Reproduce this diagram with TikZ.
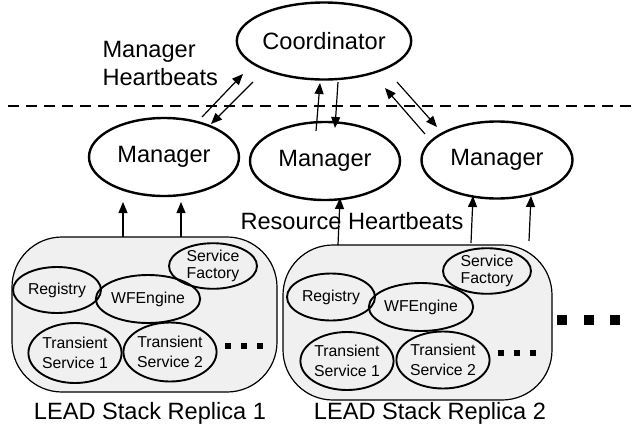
\documentclass[tikz,border=0pt]{standalone}
\usepackage{fontspec}
\setmainfont{Liberation Sans}
\usetikzlibrary{shapes.geometric,arrows.meta}
\begin{document}
\begin{tikzpicture}[x=1pt,y=-1pt,
  big/.style={font=\fontsize{23.6}{28}\selectfont},
  small/.style={font=\fontsize{15.8}{19.5}\selectfont},
  bigell/.style={ellipse,draw,line width=2.4pt,inner sep=0pt,big},
  smallell/.style={ellipse,draw,line width=1.9pt,inner sep=0pt,small,align=center,minimum width=88pt},
  stackbox/.style={draw,line width=1.2pt,fill=black!6,rounded corners=50pt},
  arr/.style={line width=1.2pt,-{Triangle[length=11pt,width=9pt]}},
  sq/.style={fill=black,draw=none}]
\useasboundingbox (0,0) rectangle (635,429);
% dashed separator
\coordinate (dl) at (8,106);
\coordinate (dr) at (635,106);
\draw[line width=2.2pt,dash pattern=on 11pt off 7pt] (dl) -- (dr);
% coordinator and managers
\node[bigell,minimum width=164pt,minimum height=77pt] (coord) at (324,41) {Coordinator};
\node[bigell,minimum width=150pt,minimum height=78pt] (m1) at (164,157) {Manager};
\node[bigell,minimum width=150pt,minimum height=78pt] (m2) at (325,161) {Manager};
\node[bigell,minimum width=151pt,minimum height=77pt] (m3) at (497,160) {Manager};
\node[big,align=left,anchor=west] (mh) at (99,63) {Manager\\Heartbeats};
\node[big] (rh) at (352,221) {Resource Heartbeats};
% boxes
\draw[stackbox] (12,237) rectangle (277,392);
\node[inner sep=0pt,minimum width=265pt,minimum height=155pt] (box1) at (144.5,314.5) {};
\draw[stackbox] (283,245) rectangle (552,400);
\node[inner sep=0pt,minimum width=269pt,minimum height=155pt] (box2) at (417.5,322.5) {};
% replica 1 contents
\node[smallell,minimum height=41pt] (sf1) at (213,266) {Service\\[-2pt]Factory};
\node[smallell,minimum height=46pt] (reg1) at (57,290) {Registry};
\node[smallell,minimum height=48pt] (wf1) at (148,299) {WFEngine};
\node[smallell,minimum height=60pt] (ts11) at (75,353) {Transient\\Service 1};
\node[smallell,minimum height=59pt] (ts12) at (170,352) {Transient\\Service 2};
\node[sq,minimum size=6pt,inner sep=0pt] (d11) at (228,346) {};
\node[sq,minimum size=6pt,inner sep=0pt] (d12) at (244,346) {};
\node[sq,minimum size=6pt,inner sep=0pt] (d13) at (260,346) {};
% replica 2 contents
\node[smallell,minimum height=45pt] (sf2) at (487,271) {Service\\[-2pt]Factory};
\node[smallell,minimum height=47pt] (reg2) at (331,297) {Registry};
\node[smallell,minimum height=48pt] (wf2) at (421,307) {WFEngine};
\node[smallell,minimum height=58pt] (ts21) at (347,361) {Transient\\Service 1};
\node[smallell,minimum height=57pt] (ts22) at (443,360) {Transient\\Service 2};
\node[sq,minimum size=6pt,inner sep=0pt] (d21) at (501,353) {};
\node[sq,minimum size=6pt,inner sep=0pt] (d22) at (517,353) {};
\node[sq,minimum size=6pt,inner sep=0pt] (d23) at (533,353) {};
% big dots
\node[sq,minimum size=10pt,inner sep=0pt] (e1) at (562,320) {};
\node[sq,minimum size=10pt,inner sep=0pt] (e2) at (589,320) {};
\node[sq,minimum size=10pt,inner sep=0pt] (e3) at (615,320) {};
% labels
\node[big] (l1) at (150,413) {LEAD Stack Replica 1};
\node[big] (l2) at (430,413) {LEAD Stack Replica 2};
% manager heartbeat arrows
\coordinate (a1s) at (202,117); \coordinate (a1e) at (243,74);
\coordinate (b1s) at (253,82);  \coordinate (b1e) at (211,124);
\coordinate (a2s) at (316,131); \coordinate (a2e) at (320,83);
\coordinate (b2s) at (338,82);  \coordinate (b2e) at (335,128);
\coordinate (a3s) at (397,82);  \coordinate (a3e) at (437,127);
\coordinate (b3s) at (425,134); \coordinate (b3e) at (385,88);
\draw[arr] (a1s) -- (a1e);
\draw[arr] (b1s) -- (b1e);
\draw[arr] (a2s) -- (a2e);
\draw[arr] (b2s) -- (b2e);
\draw[arr] (a3s) -- (a3e);
\draw[arr] (b3s) -- (b3e);
% resource heartbeat arrows
\coordinate (r1s) at (123,237); \coordinate (r1e) at (123,202);
\coordinate (r2s) at (181,237); \coordinate (r2e) at (181,202);
\coordinate (r3s) at (338,245); \coordinate (r3e) at (340,198);
\coordinate (r4s) at (471,243); \coordinate (r4e) at (473,196);
\coordinate (r5s) at (529,241); \coordinate (r5e) at (531,196);
\draw[arr] (r1s) -- (r1e);
\draw[arr] (r2s) -- (r2e);
\draw[arr] (r3s) -- (r3e);
\draw[arr] (r4s) -- (r4e);
\draw[arr] (r5s) -- (r5e);
\end{tikzpicture}
\end{document}
